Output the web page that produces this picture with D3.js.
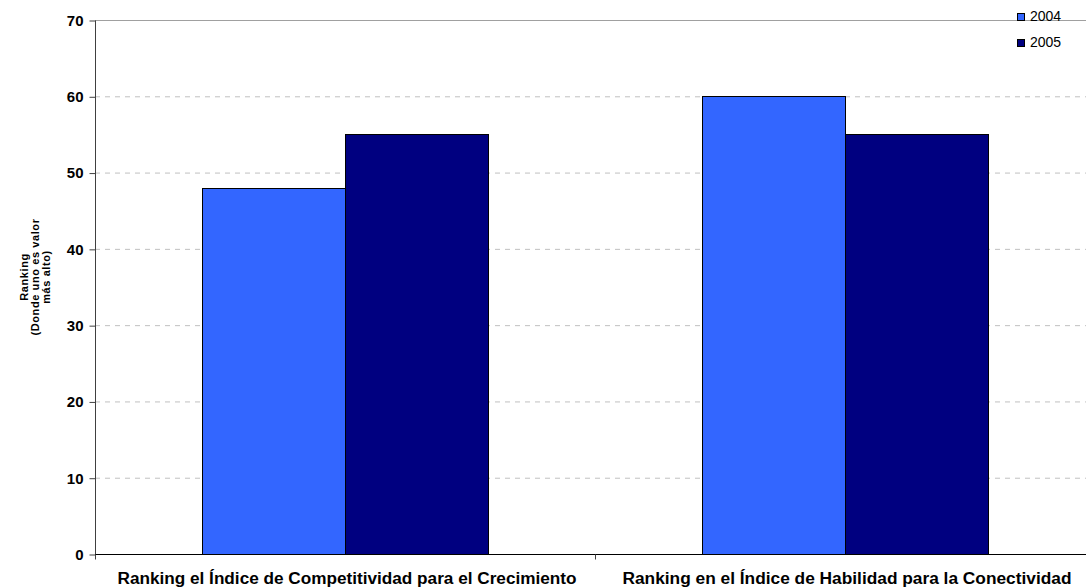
<!DOCTYPE html>
<html><head><meta charset="utf-8">
<script src="https://cdn.jsdelivr.net/npm/d3@7"></script>
<style>body{margin:0;background:#fff}svg{display:block}text{font-family:Arial,"Liberation Sans",sans-serif}</style>
</head><body>
<svg id="c" width="1086" height="588"></svg>
<script>
const categories = ["Ranking el Índice de Competitividad para el Crecimiento", "Ranking en el Índice de Habilidad para la Conectividad"];
const seriesNames = ["2004", "2005"];
const values2004 = [48, 60];
const values2005 = [55, 55];
const yTicks = [0, 10, 20, 30, 40, 50, 60, 70];
const colors = ["#3366FF", "#000080"];

const svg = d3.select("#c");
const m = {l: 95, r: 1095, t: 20, b: 554};
const x = d3.scaleBand().domain(categories).range([m.l, m.r]).paddingInner(0).paddingOuter(0);
const xs = d3.scaleBand().domain(seriesNames).range([0, x.bandwidth()]).paddingInner(0).paddingOuter(0.748);
const y = d3.scaleLinear().domain([0, 70]).range([m.b, m.t]);

// gridlines
svg.append("g").selectAll("line").data(yTicks.filter(d => d > 0 && d < 70)).join("line")
  .attr("x1", m.l).attr("x2", m.r).attr("y1", d => y(d) + 0.5).attr("y2", d => y(d) + 0.5)
  .attr("stroke", "#c0c0c0").attr("stroke-dasharray", "5,5");
svg.append("line").attr("x1", m.l).attr("x2", m.r).attr("y1", y(70) + 0.5).attr("y2", y(70) + 0.5)
  .attr("stroke", "#a0a0a0");

const data = categories.map((c, i) => ({c, vals: [values2004[i], values2005[i]]}));
const g = svg.append("g");
data.forEach(d => {
  d.vals.forEach((v, j) => {
    g.append("rect")
      .attr("x", Math.round(x(d.c) + xs(seriesNames[j])) + 0.5)
      .attr("y", Math.round(y(v)) + 0.5)
      .attr("width", Math.round(xs.bandwidth()))
      .attr("height", Math.round(y(0)) - Math.round(y(v)))
      .attr("fill", colors[j]).attr("stroke", "#000").attr("stroke-width", 1);
  });
});

// y axis
const ya = svg.append("g").attr("transform", `translate(${m.l + 0.5},0.5)`)
  .call(d3.axisLeft(y).tickValues(yTicks).tickSize(6).tickPadding(6));
ya.select(".domain").attr("stroke", "#404040").attr("d", `M0,${m.t}V${m.b + 4}`);
ya.selectAll(".tick line").attr("stroke", "#404040");
ya.selectAll(".tick text").attr("font-size", 15).attr("font-weight", "bold").attr("fill", "#000")
  .attr("font-family", "Arial,'Liberation Sans',sans-serif");

// x axis
const xa = svg.append("g").attr("transform", `translate(0,${m.b + 0.5})`);
xa.append("line").attr("x1", m.l).attr("x2", m.r).attr("stroke", "#000");
[m.l, x(categories[1]), m.r].forEach(t => xa.append("line").attr("x1", t + 0.5).attr("x2", t + 0.5).attr("y1", 0).attr("y2", 5).attr("stroke", "#404040"));
const labelLens = [459, 449];
categories.forEach((c, i) => {
  svg.append("text").attr("x", x(c) + x.bandwidth() / 2 + 2).attr("y", 584)
    .attr("text-anchor", "middle").attr("font-size", 16).attr("font-weight", "bold")
    .attr("textLength", labelLens[i]).attr("lengthAdjust", "spacingAndGlyphs").text(c);
});

// y title
const yt = svg.append("text").attr("transform", "translate(38.5,277) rotate(-90)")
  .attr("text-anchor", "middle").attr("font-size", 11).attr("font-weight", "bold");
["Ranking", "(Donde uno es valor", "más alto)"].forEach((s, i) =>
  yt.append("tspan").attr("x", 0).attr("dy", i === 0 ? -11 : 11).attr("letter-spacing", 0.6).text(s));

// legend
seriesNames.forEach((s, i) => {
  const ly = 13 + i * 26;
  svg.append("rect").attr("x", 1017.5).attr("y", ly + 0.5).attr("width", 7).attr("height", 7)
    .attr("fill", colors[i]).attr("stroke", "#000");
  svg.append("text").attr("x", 1030).attr("y", ly + 8).attr("font-size", 14).text(s);
});
</script>
</body></html>
